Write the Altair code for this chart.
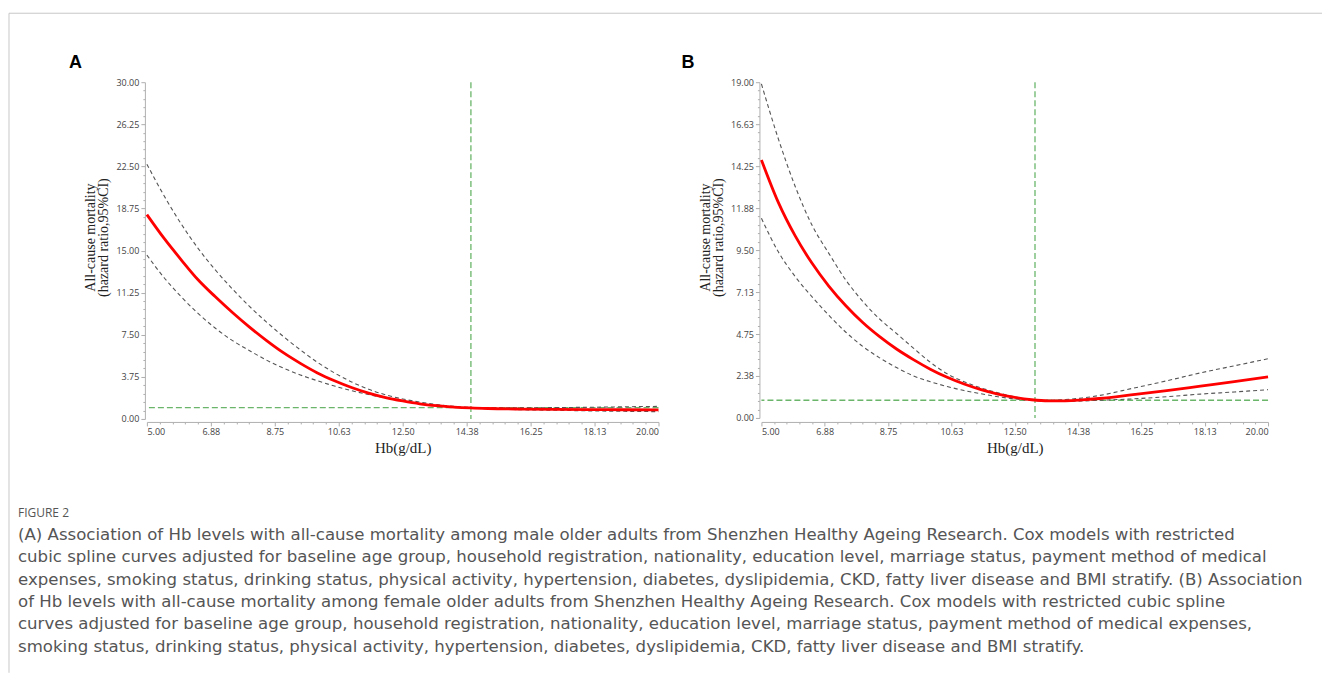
import altair as alt
import pandas as pd

# ---------------- data ----------------
hb = [5.0, 5.5, 6.0, 6.5, 7.0, 7.5, 8.0, 8.5, 9.0, 9.5, 10.0, 10.5, 11.0, 11.5,
      12.0, 12.5, 13.0, 13.5, 14.0, 14.5, 15.0, 16.0, 17.0, 18.0, 19.0, 20.0]

a_hr = [18.2, 16.1, 14.2, 12.4, 10.9, 9.5, 8.2, 7.0, 5.9, 4.95, 4.1, 3.4, 2.8, 2.3,
        1.9, 1.6, 1.35, 1.18, 1.06, 0.98, 0.93, 0.88, 0.85, 0.83, 0.82, 0.80]
a_upper = [22.7, 19.9, 17.4, 15.2, 13.3, 11.6, 10.05, 8.65, 7.35, 6.15, 5.05, 4.1, 3.3, 2.65,
           2.15, 1.78, 1.5, 1.28, 1.12, 1.02, 0.99, 0.99, 1.01, 1.04, 1.08, 1.12]
a_lower = [14.6, 12.6, 10.9, 9.4, 8.1, 7.0, 6.1, 5.25, 4.53, 3.92, 3.4, 2.93, 2.52, 2.17,
           1.87, 1.6, 1.38, 1.2, 1.07, 0.97, 0.9, 0.82, 0.77, 0.72, 0.68, 0.65]

b_hr = [14.6, 12.2, 10.3, 8.75, 7.45, 6.35, 5.4, 4.6, 3.9, 3.3, 2.76, 2.3, 1.92, 1.6,
        1.35, 1.16, 1.03, 0.97, 0.97, 1.02, 1.1, 1.32, 1.55, 1.8, 2.05, 2.32]
b_upper = [18.9, 15.8, 13.1, 10.9, 9.3, 7.8, 6.6, 5.6, 4.78, 3.95, 3.15, 2.5, 2.05, 1.7,
           1.42, 1.2, 1.04, 1.0, 1.04, 1.13, 1.27, 1.68, 2.1, 2.55, 2.95, 3.35]
b_lower = [11.3, 9.4, 8.0, 6.85, 5.8, 4.85, 4.05, 3.4, 2.85, 2.38, 2.05, 1.78, 1.55, 1.37,
           1.2, 1.08, 1.0, 0.93, 0.93, 0.96, 1.0, 1.08, 1.2, 1.35, 1.47, 1.6]

a_ref_x = [14.5]
b_ref_x = [13.1]
ref_hr = [1.0]

x_major = [5, 6.875, 8.75, 10.625, 12.5, 14.375, 16.25, 18.125, 20]
x_labels = ["5.00", "6.88", "8.75", "10.63", "12.50", "14.38", "16.25", "18.13", "20.00"]
a_y_major = [0, 3.75, 7.5, 11.25, 15, 18.75, 22.5, 26.25, 30]
a_y_labels = ["0.00", "3.75", "7.50", "11.25", "15.00", "18.75", "22.50", "26.25", "30.00"]
b_y_major = [0, 2.375, 4.75, 7.125, 9.5, 11.875, 14.25, 16.625, 19]
b_y_labels = ["0.00", "2.38", "4.75", "7.13", "9.50", "11.88", "14.25", "16.63", "19.00"]

panel_labels = ["A", "B"]
x_title = "Hb(g/dL)"
y_title = ["All-cause mortality", "(hazard ratio,95%CI)"]

figure_label = "FIGURE 2"
caption_lines = [
    "(A) Association of Hb levels with all-cause mortality among male older adults from Shenzhen Healthy Ageing Research. Cox models with restricted",
    "cubic spline curves adjusted for baseline age group, household registration, nationality, education level, marriage status, payment method of medical",
    "expenses, smoking status, drinking status, physical activity, hypertension, diabetes, dyslipidemia, CKD, fatty liver disease and BMI stratify. (B) Association",
    "of Hb levels with all-cause mortality among female older adults from Shenzhen Healthy Ageing Research. Cox models with restricted cubic spline",
    "curves adjusted for baseline age group, household registration, nationality, education level, marriage status, payment method of medical expenses,",
    "smoking status, drinking status, physical activity, hypertension, diabetes, dyslipidemia, CKD, fatty liver disease and BMI stratify.",
]

# ---------------- styling ----------------
RED = "#ff0000"
GRAY = "#555555"
GREEN = "#6ab56a"
AXIS_COLOR = "#b0b0b0"
LABEL_FONT = "Open Sans"
SERIF = "Liberation Serif"


def with_minor(major, n=4):
    vals = []
    for i in range(len(major) - 1):
        step = (major[i + 1] - major[i]) / (n + 1)
        vals += [major[i] + step * k for k in range(n + 1)]
    vals.append(major[-1])
    return vals


def major_test(major):
    return " || ".join(f"abs(datum.value - ({v})) < 1e-6" for v in major)


def label_expr(major, labels):
    return "".join(f"abs(datum.value - ({v})) < 1e-6 ? '{l}' : " for v, l in zip(major, labels)) + "''"


def make_axis(major, labels, orient, offset, title_x=None, title_y=None):
    kw = dict(
        values=with_minor(major),
        labelExpr=label_expr(major, labels),
        labelOverlap=False,
        labelFont=LABEL_FONT,
        labelFontSize=9,
        labelColor="#444444",
        labelPadding=2,
        tickSize={"condition": {"test": major_test(major), "value": 4}, "value": 2},
        tickColor="#999999",
        tickWidth=0.8,
        domainColor=AXIS_COLOR,
        domainWidth=1,
        grid=False,
        offset=offset,
        titleFont=SERIF,
        titleColor="#222222",
        titleFontWeight="normal",
    )
    if orient == "left":
        kw.update(titleFontSize=14, titleLineHeight=13, titleAngle=270,
                  titleX=title_x, titleY=title_y, titleBaseline="middle", titleAlign="center")
    else:
        kw.update(titleFontSize=15, titleX=title_x, titleY=title_y,
                  titleBaseline="middle", titleAlign="center")
    return alt.Axis(**kw)


def panel(label, hr, lower, upper, ref_x, y_major, y_labels, ymax, width, height,
          x_offset, dx_title):
    curve = pd.DataFrame({"hb": hb, "hr": hr})
    ci = pd.DataFrame({
        "hb": hb + hb,
        "hr": lower + upper,
        "bound": ["lower"] * len(hb) + ["upper"] * len(hb),
    })
    vref = pd.DataFrame({"hb": ref_x})
    href = pd.DataFrame({"hr": ref_hr})

    x_enc = alt.X("hb:Q", title=x_title,
                  scale=alt.Scale(domain=[5, 20], nice=False, zero=False),
                  axis=make_axis(x_major, x_labels, "bottom", x_offset,
                                 title_x=width / 2, title_y=26))
    y_enc = alt.Y("hr:Q", title=y_title,
                  scale=alt.Scale(domain=[0, ymax], nice=False, zero=False),
                  axis=make_axis(y_major, y_labels, "left", 2,
                                 title_x=-54, title_y=155))

    h_rule = alt.Chart(href).mark_rule(color=GREEN, strokeWidth=1.3, strokeDash=[6, 3]).encode(y=y_enc)
    v_rule = alt.Chart(vref).mark_rule(color=GREEN, strokeWidth=1.3, strokeDash=[6, 3]).encode(x=x_enc)
    ci_lines = alt.Chart(ci).mark_line(color=GRAY, strokeWidth=1.1, strokeDash=[4, 3],
                                       interpolate="monotone").encode(
        x=x_enc, y=y_enc, detail="bound:N")
    hr_line = alt.Chart(curve).mark_line(color=RED, strokeWidth=2.8,
                                         interpolate="monotone").encode(x=x_enc, y=y_enc)

    return alt.layer(h_rule, v_rule, ci_lines, hr_line).properties(
        width=width, height=height,
        title=alt.TitleParams(label, anchor="start", frame="group", dx=dx_title, dy=17, offset=9,
                              fontSize=18, fontWeight="bold", font="Liberation Sans",
                              color="#000000", baseline="alphabetic"),
    )


panel_a = panel(panel_labels[0], a_hr, a_lower, a_upper, a_ref_x, a_y_major, a_y_labels,
                30, 512, 337, 3, -78)
panel_b = panel(panel_labels[1], b_hr, b_lower, b_upper, b_ref_x, b_y_major, b_y_labels,
                19, 507, 336, 4, -80)

# ---------------- caption ----------------
cap_df = pd.DataFrame({"idx": list(range(1, len(caption_lines) + 1)), "text": caption_lines})
fig_df = pd.DataFrame({"idx": [0], "text": [figure_label]})
y_cap = alt.Y("idx:Q", scale=alt.Scale(domain=[0, 6], reverse=True, nice=False, zero=False), axis=None)

fig_text = alt.Chart(fig_df).mark_text(align="left", baseline="middle", dx=-129,
                                       font=LABEL_FONT, fontSize=12, color="#555555").encode(
    x=alt.value(0), y=y_cap, text="text:N")
cap_text = alt.Chart(cap_df).mark_text(align="left", baseline="middle", dx=-129,
                                       font="DejaVu Sans", fontSize=16.6, color="#555555").encode(
    x=alt.value(0), y=y_cap, text="text:N")

frame_df = pd.DataFrame({"k": [0]})
top_border = alt.Chart(frame_df).mark_rule(color="#c8c8c8", strokeWidth=1).encode(
    x=alt.value(-138), x2=alt.value(1176), y=alt.value(-500))
left_border = alt.Chart(frame_df).mark_rule(color="#c8c8c8", strokeWidth=1).encode(
    x=alt.value(-138), y=alt.value(-500), y2=alt.value(160))

caption = alt.layer(top_border, left_border, fig_text, cap_text).properties(width=1170, height=134)

top_row = alt.hconcat(panel_a, panel_b, spacing=103, bounds="flush")
# the nested row counts as zero height in a flush layout, so the spacing is
# the distance from the top of the plots to the caption's first line
chart = alt.vconcat(top_row, caption, spacing=431, bounds="flush").properties(
    padding={"left": 0, "top": 4, "right": 0, "bottom": 0},
    background="white",
).configure_view(stroke=None)

chart.save("out.html", embed_options={"renderer": "svg", "actions": False})
